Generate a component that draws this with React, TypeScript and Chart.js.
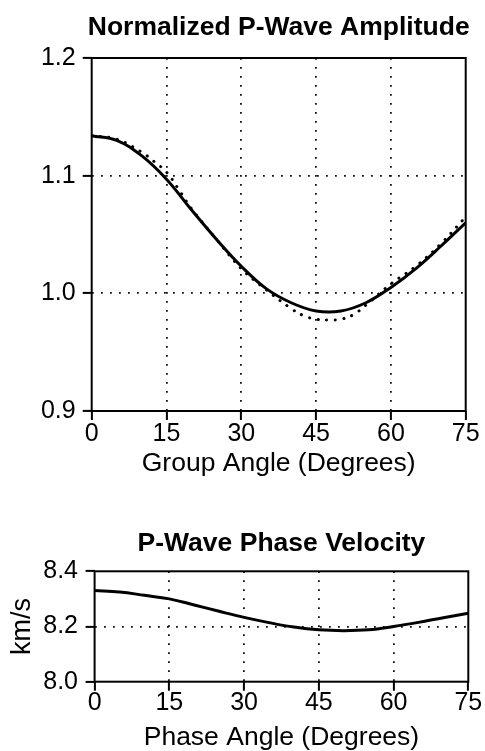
import { useEffect, useRef } from "react";
import { Chart, registerables } from "chart.js";

Chart.register(...registerables);

const FONT = '"Liberation Sans", Arial, Helvetica, sans-serif';

// Normalized P-wave amplitude vs group angle
const groupAngles = [0, 5, 10, 15, 20, 25, 30, 35, 40, 45, 50, 55, 60, 65, 70, 75];
const amplitudeSolid = [1.134, 1.13, 1.117, 1.097, 1.071, 1.046, 1.023, 1.004, 0.992, 0.985, 0.985, 0.992, 1.005, 1.021, 1.04, 1.06];
const dottedAngles = [0, 5, 10, 12.5, 15, 17.5, 20, 25, 30, 35, 40, 42.5, 45, 47.5, 50, 52.5, 55, 60, 65, 70, 75];
const amplitudeDotted = [1.134, 1.131, 1.12, 1.112, 1.103, 1.088, 1.072, 1.046, 1.021, 1.003, 0.987, 0.981, 0.978, 0.9774, 0.978, 0.982, 0.99, 1.008, 1.023, 1.042, 1.065];

// P-wave phase velocity (km/s) vs phase angle
const phaseAngles = [0, 5, 10, 15, 20, 25, 30, 35, 40, 45, 50, 55, 60, 65, 70, 75];
const phaseVelocity = [8.33, 8.325, 8.313, 8.3, 8.278, 8.255, 8.233, 8.214, 8.198, 8.188, 8.185, 8.188, 8.2, 8.215, 8.232, 8.248];

const angleTicks = [0, 15, 30, 45, 60, 75];

const framePlugin = {
  id: "frame",
  afterDraw(chart: any, _args: any, opts: any) {
    const { ctx, chartArea: a } = chart;
    ctx.save();
    ctx.strokeStyle = "#000";
    ctx.lineWidth = 2;
    ctx.strokeRect(a.left, a.top, a.right - a.left, a.bottom - a.top);
    if (opts && opts.text) {
      ctx.font = `bold 26.5px ${FONT}`;
      ctx.fillStyle = "#000";
      ctx.textAlign = "center";
      ctx.textBaseline = "alphabetic";
      ctx.fillText(opts.text, (a.left + a.right) / 2, a.top - opts.gap);
    }
    ctx.restore();
  },
};

const pairs = (xs: number[], ys: number[]) => xs.map((x, i) => ({ x, y: ys[i] }));

const interiorGrid = (ctx: any) => {
  const n = ctx.scale.ticks.length;
  return ctx.index === 0 || ctx.index === n - 1 ? "rgba(0,0,0,0)" : "#111";
};

function xAxis(title: string, height: number, titlePad: number, tickPad: number) {
  return {
    type: "linear" as const,
    min: 0,
    max: 75,
    afterBuildTicks: (s: any) => {
      s.ticks = angleTicks.map((v) => ({ value: v }));
    },
    afterFit: (s: any) => {
      s.height = height;
    },
    ticks: {
      color: "#000",
      font: { family: FONT, size: 25, lineHeight: 1 },
      padding: tickPad,
      maxRotation: 0,
      autoSkip: false,
    },
    grid: {
      color: interiorGrid,
      lineWidth: 1.8,
      tickLength: 9,
      tickColor: "#000",
      tickWidth: 2,
    },
    border: { display: false, dash: [1.8, 7.2] },
    title: {
      display: true,
      text: title,
      color: "#000",
      font: { family: FONT, size: 26.5, lineHeight: 1 },
      padding: { top: 0, bottom: titlePad },
    },
  };
}

function AmplitudeChart() {
  const ref = useRef<HTMLCanvasElement>(null);
  useEffect(() => {
    const chart = new Chart(ref.current!, {
      type: "line",
      data: {
        datasets: [
          {
            data: pairs(dottedAngles, amplitudeDotted),
            borderColor: "#000",
            borderWidth: 3,
            borderDash: [0.1, 8.5],
            borderCapStyle: "round",
            pointRadius: 0,
            tension: 0.4,
            fill: false,
          },
          {
            data: pairs(groupAngles, amplitudeSolid),
            borderColor: "#000",
            borderWidth: 3,
            pointRadius: 0,
            tension: 0.4,
            fill: false,
          },
        ],
      },
      options: {
        responsive: false,
        animation: false,
        layout: { padding: { top: 58, right: 19.3, left: 0, bottom: 0 } },
        plugins: {
          legend: { display: false },
          title: { display: false },
          tooltip: { enabled: false },
          frame: { text: "Normalized P-Wave Amplitude", gap: 23 },
        } as any,
        scales: {
          x: xAxis("Group Angle (Degrees)", 89, 23, 1.5),
          y: {
            type: "linear",
            min: 0.9,
            max: 1.2,
            afterBuildTicks: (s: any) => {
              s.ticks = [0.9, 1.0, 1.1, 1.2].map((v) => ({ value: v }));
            },
            afterFit: (s: any) => {
              s.width = 91.7;
            },
            ticks: {
              color: "#000",
              font: { family: FONT, size: 25, lineHeight: 1 },
              padding: 7,
              callback: (v: any) => Number(v).toFixed(1),
            },
            grid: {
              color: interiorGrid,
              lineWidth: 1.8,
              tickLength: 9,
              tickColor: "#000",
              tickWidth: 2,
            },
            border: { display: false, dash: [1.8, 7.2] },
          },
        },
      },
      plugins: [framePlugin],
    });
    return () => chart.destroy();
  }, []);
  return (
    <canvas
      ref={ref}
      width={485}
      height={500}
      style={{ position: "absolute", left: 0, top: 0, width: 485, height: 500 }}
    />
  );
}

function VelocityChart() {
  const ref = useRef<HTMLCanvasElement>(null);
  useEffect(() => {
    const chart = new Chart(ref.current!, {
      type: "line",
      data: {
        datasets: [
          {
            data: pairs(phaseAngles, phaseVelocity),
            borderColor: "#000",
            borderWidth: 3,
            pointRadius: 0,
            tension: 0.4,
            fill: false,
          },
        ],
      },
      options: {
        responsive: false,
        animation: false,
        layout: { padding: { top: 71.3, right: 16.7, left: 0, bottom: 0 } },
        plugins: {
          legend: { display: false },
          title: { display: false },
          tooltip: { enabled: false },
          frame: { text: "P-Wave Phase Velocity", gap: 20.3 },
        } as any,
        scales: {
          x: xAxis("Phase Angle (Degrees)", 69.3, 0, 0),
          y: {
            type: "linear",
            min: 8.0,
            max: 8.4,
            afterBuildTicks: (s: any) => {
              s.ticks = [8.0, 8.2, 8.4].map((v) => ({ value: v }));
            },
            afterFit: (s: any) => {
              s.width = 94.6;
            },
            ticks: {
              color: "#000",
              font: { family: FONT, size: 25, lineHeight: 1 },
              padding: 7.6,
              callback: (v: any) => Number(v).toFixed(1),
            },
            grid: {
              color: interiorGrid,
              lineWidth: 1.8,
              tickLength: 9,
              tickColor: "#000",
              tickWidth: 2,
            },
            border: { display: false, dash: [1.8, 7.2] },
            title: {
              display: true,
              text: "km/s",
              color: "#000",
              font: { family: FONT, size: 27, lineHeight: 1 },
              padding: { top: 9.5, bottom: 0 },
            },
          },
        },
      },
      plugins: [framePlugin],
    });
    return () => chart.destroy();
  }, []);
  return (
    <canvas
      ref={ref}
      width={485}
      height={251}
      style={{ position: "absolute", left: 0, top: 500, width: 485, height: 251 }}
    />
  );
}

export default function App() {
  return (
    <div style={{ position: "absolute", left: 0, top: 0, width: 485, height: 751, background: "#fff" }}>
      <AmplitudeChart />
      <VelocityChart />
    </div>
  );
}
